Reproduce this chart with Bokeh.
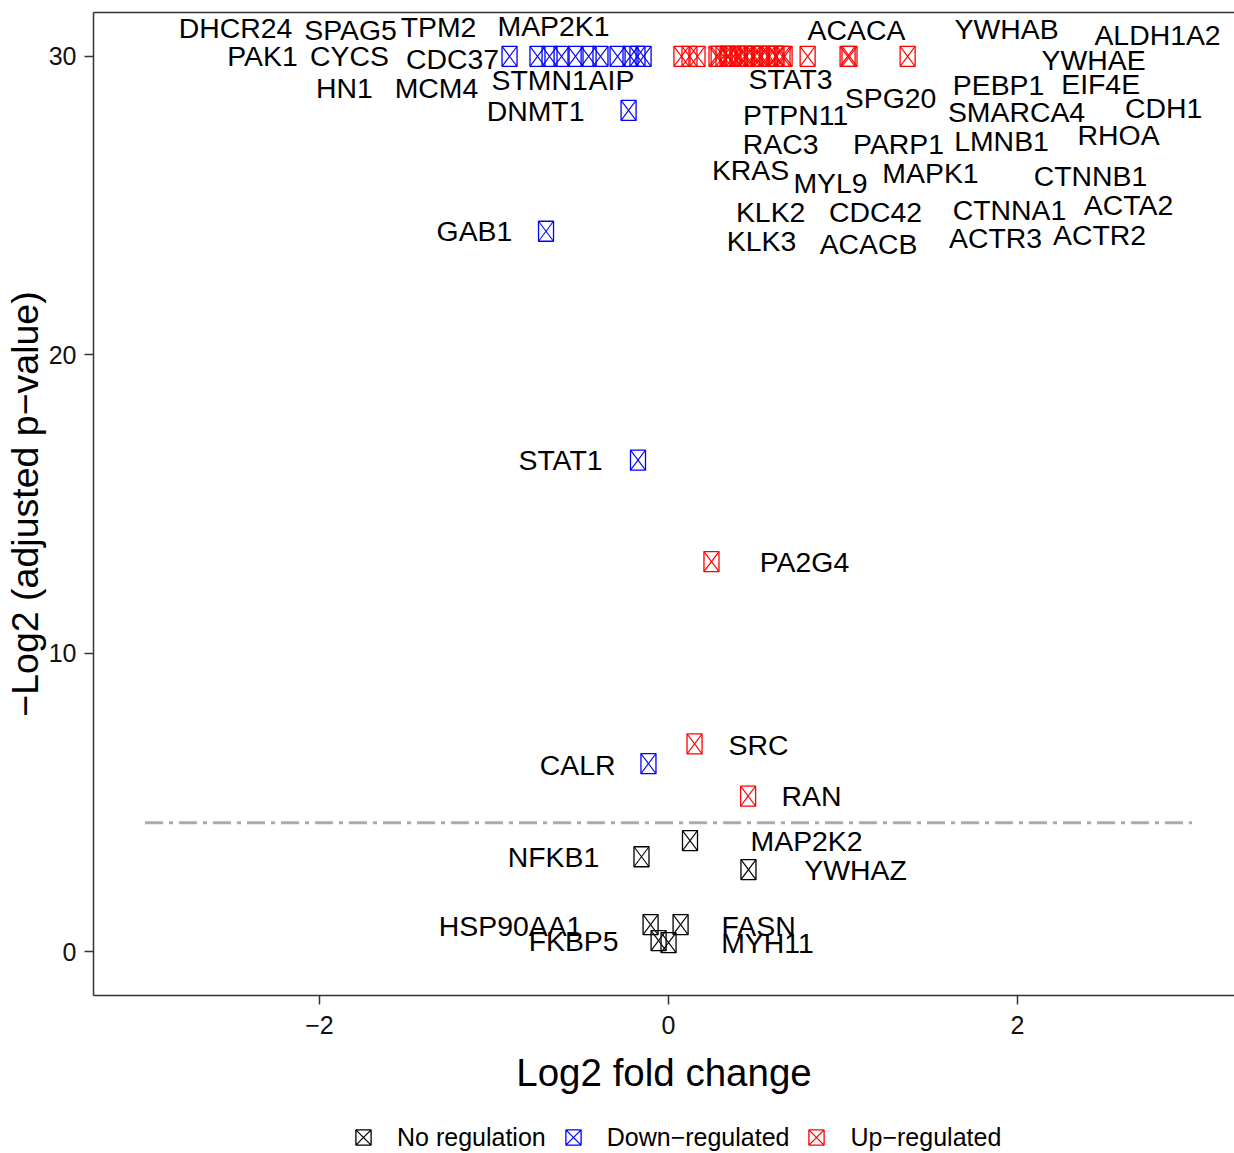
import numpy as np
from bokeh.plotting import figure
from bokeh.layouts import column
from bokeh.models import Range1d, FixedTicker, LinearAxis, Legend, LegendItem, ColumnDataSource
from bokeh.core.properties import value
from bokeh.embed import file_html
from bokeh.resources import INLINE

# ---------------- data ----------------
genes = ["DHCR24", "PAK1", "SPAG5", "CYCS", "HN1", "TPM2", "MCM4", "CDC37", "MAP2K1", "STMN1", "AIP",
         "DNMT1", "GAB1", "STAT1", "CALR",
         "KRAS", "KLK3", "KLK2", "RAC3", "PTPN11", "STAT3", "MYL9", "ACACB", "CDC42", "ACACA",
         "SPG20", "PARP1", "MAPK1", "ACTR3", "CTNNA1", "LMNB1", "SMARCA4", "PEBP1", "YWHAB", "ACTR2",
         "CTNNB1", "ACTA2", "RHOA", "EIF4E", "YWHAE", "CDH1", "ALDH1A2",
         "PA2G4", "SRC", "RAN",
         "MAP2K2", "NFKB1", "YWHAZ", "HSP90AA1", "FASN", "FKBP5", "MYH11"]

log2fc = [-0.911, -0.751, -0.682, -0.613, -0.533, -0.458, -0.390, -0.292, -0.218, -0.178, -0.143,
          -0.229, -0.702, -0.175, -0.115,
          0.074, 0.120, 0.166, 0.275, 0.287, 0.315, 0.338, 0.344, 0.372, 0.395,
          0.407, 0.436, 0.447, 0.481, 0.493, 0.521, 0.533, 0.567, 0.579, 0.613,
          0.619, 0.653, 0.665, 0.797, 1.026, 1.037, 1.370,
          0.246, 0.149, 0.456,
          0.123, -0.155, 0.458, -0.103, 0.069, -0.057, 0.000]

neglog2_padj = [30.0] * 11 + [28.19, 24.14, 16.47, 6.30] + [30.0] * 27 + [13.07, 6.96, 5.21] + \
               [3.72, 3.18, 2.75, 0.905, 0.905, 0.37, 0.30]

regulation = ["Down-regulated"] * 15 + ["Up-regulated"] * 30 + ["No regulation"] * 7

# repelled label positions (data units)
label_x = [-2.481, -2.327, -1.822, -1.828, -1.857, -1.318, -1.330, -1.238, -0.659, -0.739, -0.327,
           -0.762, -1.112, -0.619, -0.521,
           0.470, 0.533, 0.585, 0.642, 0.728, 0.699, 0.928, 1.146, 1.186, 1.077,
           1.272, 1.318, 1.501, 1.874, 1.954, 1.908, 1.994, 1.891, 1.937, 2.470,
           2.418, 2.636, 2.579, 2.476, 2.436, 2.837, 2.802,
           0.779, 0.516, 0.819,
           0.791, -0.659, 1.072, -0.905, 0.516, -0.544, 0.567]
label_y = [30.94, 30.00, 30.87, 30.00, 28.93, 30.97, 28.93, 29.90, 31.01, 29.20, 29.20,
           28.16, 24.14, 16.46, 6.27,
           26.18, 23.80, 24.77, 27.05, 28.03, 29.23, 25.75, 23.70, 24.77, 30.87,
           28.60, 27.05, 26.09, 23.90, 24.84, 27.15, 28.13, 29.03, 30.91, 24.00,
           25.98, 25.01, 27.35, 29.06, 29.87, 28.27, 30.71,
           13.07, 6.94, 5.20,
           3.72, 3.18, 2.72, 0.87, 0.87, 0.37, 0.30]

groups = ["No regulation", "Down-regulated", "Up-regulated"]
group_labels = ["No regulation", "Down\u2212regulated", "Up\u2212regulated"]
group_colors = ["#000000", "#0000FF", "#FF0000"]

threshold_y = [4.32, 4.32]
threshold_x = [-3.0, 3.0]

x_ticks = [-2, 0, 2]
y_ticks = [0, 10, 20, 30]

# ---------------- main figure ----------------
W, H_MAIN, H_LEG = 1234, 1103, 50
LEFT, TOP, BOTTOM = 93, 12, 108
x_start, x_end = -3.295, 3.243
y_start, y_end = -1.47, 31.47

p = figure(width=W, height=H_MAIN, output_backend="svg", toolbar_location=None,
           x_range=Range1d(x_start, x_end), y_range=Range1d(y_start, y_end),
           min_border_left=LEFT, min_border_top=TOP, min_border_bottom=BOTTOM, min_border_right=0)
p.outline_line_color = None
p.xgrid.visible = False
p.ygrid.visible = False
p.background_fill_color = "white"
p.border_fill_color = "white"

axis_color = "#333333"
for ax in (p.xaxis[0], p.yaxis[0]):
    ax.axis_line_color = axis_color
    ax.axis_line_width = 1.5
    ax.major_tick_line_color = axis_color
    ax.major_tick_line_width = 1.5
    ax.major_tick_in = 0
    ax.major_tick_out = 9
    ax.minor_tick_line_color = None
    ax.major_label_text_font = "Liberation Sans"
    ax.major_label_text_font_size = "25px"
    ax.major_label_text_color = "#111111"
    ax.axis_label_text_font = "Liberation Sans"
    ax.axis_label_text_font_style = "normal"
    ax.axis_label_text_color = "#000000"

p.xaxis[0].ticker = FixedTicker(ticks=x_ticks)
p.yaxis[0].ticker = FixedTicker(ticks=y_ticks)
p.xaxis[0].major_label_overrides = {t: str(t).replace("-", "\u2212") for t in x_ticks}
p.yaxis[0].major_label_overrides = {t: str(t) for t in y_ticks}
p.xaxis[0].axis_label = "Log2 fold change"
p.yaxis[0].axis_label = "\u2212Log2 (adjusted p\u2212value)"
p.xaxis[0].axis_label_text_font_size = "38.5px"
p.yaxis[0].axis_label_text_font_size = "37.5px"
p.xaxis[0].major_label_standoff = 11
p.yaxis[0].major_label_standoff = 8
p.xaxis[0].axis_label_standoff = 14
p.yaxis[0].axis_label_standoff = 0

top_axis = LinearAxis(ticker=FixedTicker(ticks=[]), major_label_text_font_size="0px",
                      major_tick_out=0, major_tick_in=0, minor_tick_out=0, minor_tick_in=0,
                      axis_line_color=axis_color, axis_line_width=1.5, major_label_standoff=0)
p.add_layout(top_axis, "above")

# threshold line
p.line(threshold_x, threshold_y, line_color="#AAAAAA", line_width=3, line_dash="18 6 4 6")

# points: boxed crosses (rect + diagonals)
fc = np.array(log2fc)
nl = np.array(neglog2_padj)
cmap = dict(zip(groups, group_colors))
cols = [cmap[g] for g in regulation]
px_x = (W - LEFT) / (x_end - x_start)
px_y = (H_MAIN - TOP - BOTTOM) / (y_end - y_start)
mw, mh = 15, 20
dx, dy = (mw / 2) / px_x, (mh / 2) / px_y
src = ColumnDataSource(dict(x=fc, y=nl, c=cols,
                            x0=fc - dx, x1=fc + dx, ylo=nl - dy, yhi=nl + dy))
p.rect("x", "y", width=mw, height=mh, width_units="screen", height_units="screen",
       fill_alpha=0, line_color="c", line_width=1.3, source=src)
p.segment("x0", "ylo", "x1", "yhi", line_color="c", line_width=1.1, source=src)
p.segment("x0", "yhi", "x1", "ylo", line_color="c", line_width=1.1, source=src)

# gene labels
p.text(x=label_x, y=label_y, text=genes, text_align="center", text_baseline="middle",
       text_font=value("Liberation Sans"), text_font_size="28.4px", text_color="#000000")

# ---------------- legend strip ----------------
lg = figure(width=W, height=H_LEG, output_backend="svg", toolbar_location=None,
            x_range=Range1d(0, 1), y_range=Range1d(0, 1),
            min_border=0, min_border_left=0, min_border_right=0, min_border_top=0, min_border_bottom=0)
lg.axis.visible = False
lg.grid.visible = False
lg.outline_line_color = None
lg.background_fill_color = "white"
lg.border_fill_color = "white"

items = []
for g, lab, c in zip(groups, group_labels, group_colors):
    r = lg.scatter(x=[np.nan], y=[np.nan], marker="square_x", size=15, fill_alpha=0,
                   line_color=c, line_width=1.3)
    items.append(LegendItem(label=lab, renderers=[r]))
legend = Legend(items=items, orientation="horizontal", location=(251, -3),
                glyph_width=38, glyph_height=38, label_standoff=15, spacing=8,
                padding=0, margin=0, border_line_color=None, background_fill_alpha=0,
                label_text_font="Liberation Sans", label_text_font_size="25px",
                label_text_color="#000000")
lg.add_layout(legend, "center")

layout = column(p, lg, spacing=0)
open("out.html", "w").write(file_html(layout, INLINE))
